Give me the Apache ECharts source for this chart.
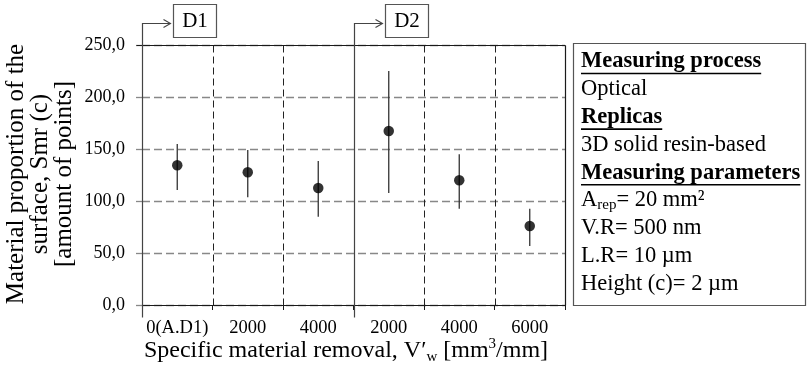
<!DOCTYPE html>
<html>
<head>
<meta charset="utf-8">
<script src="https://cdn.jsdelivr.net/npm/echarts@6/dist/echarts.min.js"></script>
<style>
  html, body { margin: 0; padding: 0; background: #fff; }
  #chart { width: 808px; height: 365px; }
</style>
</head>
<body>
<div id="chart"></div>
<script>
// Smr(c) per specific material removal step, two dressing conditions (D1, D2)
const categories  = ['0(A.D1)', '2000', '4000', '2000', '4000', '6000'];
const meanValues  = [134.3, 127.6, 112.5, 167.3, 119.9, 76.0];
const upperValues = [154.8, 149.0, 138.5, 225.0, 144.9, 92.6];
const lowerValues = [110.6, 103.5, 84.9, 107.7, 92.6, 56.7];

// Group markers: label and index of the first category of each group
const groupNames  = ['D1', 'D2'];
const groupStarts = [0, 3];

const yMin = 0, yMax = 250, yStep = 50;

const yTitleLines = ['Material proportion of the', 'surface, Smr (c)', '[amount of points]'];
const xTitle = 'Specific material removal, V\u2032{sub|w} [mm{sup|3}/mm]';

// Side panel: [text, isHeading]
const infoLines = [
  ['Measuring process', true],
  ['Optical', false],
  ['Replicas', true],
  ['3D solid resin-based', false],
  ['Measuring parameters', true],
  ['{n|A}{s|rep}{n|= 20 mm\u00B2}', false],
  ['V.R= 500 nm', false],
  ['L.R= 10 \u00B5m', false],
  ['Height (c)= 2 \u00B5m', false]
];

const FONT = "'Liberation Serif', 'Times New Roman', serif";
const chart = echarts.init(document.getElementById('chart'), null, { renderer: 'canvas' });

chart.setOption({
  animation: false,
  backgroundColor: '#fff',
  grid: { left: 142, right: 243, top: 45, bottom: 60 },
  xAxis: [{
    type: 'category',
    data: categories,
    boundaryGap: true,
    axisLine: { show: true, lineStyle: { color: '#1a1a1a', width: 1.2 } },
    axisTick: { show: true, length: 5, lineStyle: { color: '#1a1a1a', width: 1 } },
    axisLabel: { interval: 0, margin: 14, fontFamily: FONT, fontSize: 18.5, color: '#000' },
    splitLine: { show: false }
  }, {
    type: 'value', min: 0, max: categories.length, show: false, splitLine: { show: false }
  }],
  yAxis: {
    type: 'value',
    min: yMin, max: yMax, interval: yStep,
    axisLine: { show: false },
    axisTick: { show: true, length: 6, lineStyle: { color: '#888', width: 1.3 } },
    axisLabel: {
      margin: 17, fontFamily: FONT, fontSize: 18, color: '#000',
      formatter: v => v.toFixed(1).replace('.', ',')
    },
    splitLine: { show: true, lineStyle: { color: '#888', width: 1.3, type: [8, 4] } }
  },
  series: [{
    type: 'custom',
    z: 2,
    renderItem: (params, api) => {
      const x = api.value(0);
      const lo = api.coord([x, api.value(1)]);
      const hi = api.coord([x, api.value(2)]);
      return {
        type: 'line',
        shape: { x1: hi[0], y1: hi[1], x2: lo[0], y2: lo[1] },
        style: { stroke: '#333', lineWidth: 1.3 }
      };
    },
    encode: { x: 0, y: [1, 2] },
    data: categories.map((c, i) => [i, lowerValues[i], upperValues[i]])
  }, {
    type: 'scatter',
    z: 3,
    symbol: 'circle',
    symbolSize: 10.5,
    itemStyle: { color: '#000' },
    data: meanValues.map((v, i) => [i, v])
  }]
});

// Frame, separators, group markers, titles and side panel placed from the axis scales
const snap = v => Math.round(v) + 0.5;
const px = v => snap(chart.convertToPixel({ xAxisIndex: 1 }, v));
const py = v => snap(chart.convertToPixel({ yAxisIndex: 0 }, v));
const xL = px(0), xR = px(categories.length);
const yT = py(yMax), yB = py(yMin);
const g = [];
const ink = { stroke: '#1a1a1a', lineWidth: 1.2, fill: null };

// dashed separators between categories inside each group
for (let i = 1; i < categories.length; i++) {
  if (groupStarts.indexOf(i) >= 0) continue;
  g.push({ type: 'line', z: 5, shape: { x1: px(i), y1: yT, x2: px(i), y2: yB },
           style: { stroke: '#222', lineWidth: 1, lineDash: [7, 4] } });
}

g.push({ type: 'line', z: 10, shape: { x1: xL - 6, y1: yT, x2: xR, y2: yT }, style: ink });
g.push({ type: 'line', z: 10, shape: { x1: xR, y1: yT, x2: xR, y2: yB }, style: ink });

const arrowY = 23.5;
groupNames.forEach((name, k) => {
  const xs = px(groupStarts[k]);
  g.push({ type: 'polyline', z: 10, shape: { points: [[xs, yB + 12], [xs, arrowY], [xs + 28, arrowY]] },
           style: { stroke: '#444', lineWidth: 1.2, fill: null } });
  g.push({ type: 'polyline', z: 10, shape: { points: [[xs + 21, arrowY - 4], [xs + 28, arrowY], [xs + 21, arrowY + 4]] },
           style: { stroke: '#444', lineWidth: 1.1, fill: null } });
  g.push({ type: 'rect', z: 10, shape: { x: xs + 31, y: 4.5, width: 43, height: 33 },
           style: { fill: '#fff', stroke: '#555', lineWidth: 1.2 } });
  g.push({ type: 'text', z: 11, x: xs + 52.5, y: 21.5,
           style: { text: name, font: '21px ' + FONT, fill: '#000', align: 'center', verticalAlign: 'middle' } });
});

// Y-axis title (rotated, three lines)
g.push({
  type: 'text', z: 10, x: 40, y: 174, rotation: Math.PI / 2,
  style: { text: yTitleLines.join('\n'), font: '25px ' + FONT, lineHeight: 24,
           fill: '#000', align: 'center', verticalAlign: 'middle' }
});

// X-axis title with sub/superscripts
g.push({
  type: 'text', z: 10, x: 346, y: 351,
  style: {
    text: xTitle, font: '24px ' + FONT, fill: '#000', align: 'center', verticalAlign: 'middle',
    lineHeight: 28,
    rich: {
      sub: { fontSize: 15, fontFamily: FONT, lineHeight: 15, verticalAlign: 'bottom' },
      sup: { fontSize: 15, fontFamily: FONT, lineHeight: 17, verticalAlign: 'top' }
    }
  }
});

// Side panel
const boxX = 573.5, boxY = 43.5, boxW = 232, boxH = 262;
g.push({ type: 'rect', z: 10, shape: { x: boxX, y: boxY, width: boxW, height: boxH },
         style: { fill: '#fff', stroke: '#555', lineWidth: 1.2 } });
const measure = document.createElement('canvas').getContext('2d');
const panelSize = 22.5;
infoLines.forEach(([text, heading], i) => {
  const y = 61.5 + i * 27.8;
  const font = (heading ? 'bold ' : '') + panelSize + 'px ' + FONT;
  g.push({
    type: 'text', z: 11, x: 581, y: y,
    style: {
      text: text, font: font, fill: '#000', align: 'left', verticalAlign: 'middle',
      rich: {
        n: { fontSize: panelSize, fontFamily: FONT, lineHeight: 24 },
        s: { fontSize: 15, fontFamily: FONT, lineHeight: 13, verticalAlign: 'bottom' }
      }
    }
  });
  if (heading) {
    measure.font = font;
    const w = measure.measureText(text).width;
    g.push({ type: 'line', z: 11, shape: { x1: 581, y1: y + 12, x2: 581 + w, y2: y + 12 },
             style: { stroke: '#000', lineWidth: 1.6 } });
  }
});

chart.setOption({ graphic: g });
</script>
</body>
</html>
